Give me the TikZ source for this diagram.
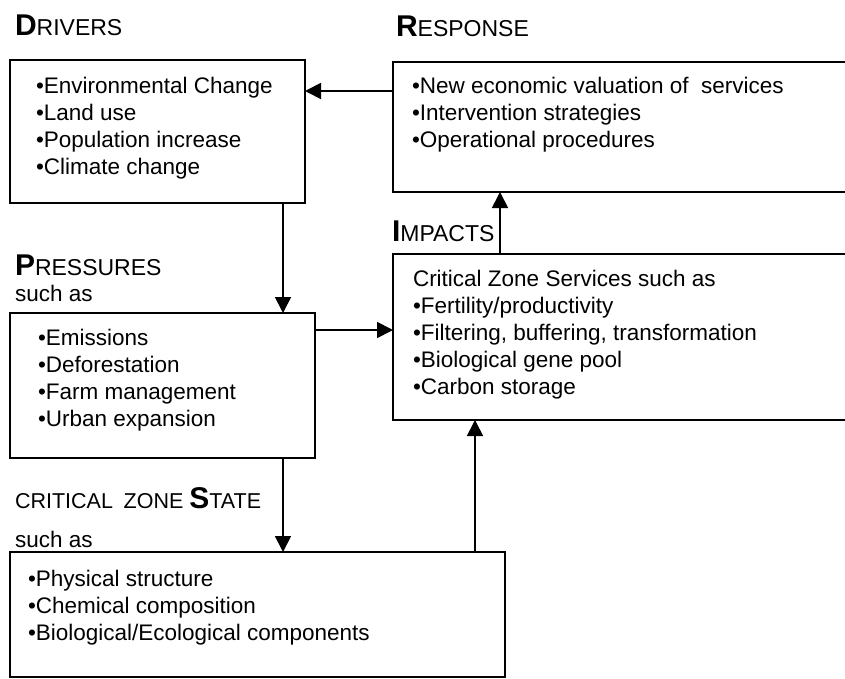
\documentclass[tikz,border=0pt]{standalone}
\usepackage{fontspec}
\setmainfont{Liberation Sans}
\usetikzlibrary{arrows.meta}
\newcommand\BigIni[1]{{\fontsize{30}{30}\selectfont\bfseries #1}}
\begin{document}
\begin{tikzpicture}[x=1pt,y=-1pt,
  box/.style={draw,line width=1.8pt,rectangle,inner sep=0pt,outer sep=0pt,anchor=north west},
  body/.style={inner sep=0pt,outer sep=0pt,anchor=north west,align=left,font=\fontsize{22.5}{27}\selectfont},
  head/.style={inner sep=0pt,outer sep=0pt,anchor=base west,font=\fontsize{23}{27}\selectfont},
  sub/.style={inner sep=0pt,outer sep=0pt,anchor=base west,font=\fontsize{22.5}{26}\selectfont},
  arr/.style={line width=1.8pt,-{Triangle[length=16pt,width=16pt]}}]
\clip (0,0) rectangle (845,679);
\fill[white] (0,0) rectangle (845,679);

% boxes
\node[box,minimum width=295pt,minimum height=143pt] (drivers) at (10,60) {};
\node[box,minimum width=480pt,minimum height=130pt] (resp) at (393,62) {};
\node[box,minimum width=305pt,minimum height=145pt] (press) at (10,313) {};
\node[box,minimum width=480pt,minimum height=166pt] (imp) at (393,254) {};
\node[box,minimum width=495pt,minimum height=125pt] (state) at (10,552) {};

% headings
\node[head] (hdrivers) at (15,36) {\BigIni{D}RIVERS};
\node[head] (hresp) at (396,37) {\BigIni{R}ESPONSE};
\node[head] (hpress) at (15,275) {\BigIni{P}RESSURES};
\node[sub] (spress) at (15,301) {such as};
\node[head] (himp) at (392,241) {\BigIni{I}MPACTS};
\node[head,font=\fontsize{21.5}{26}\selectfont] (hstate) at (15,508) {CRITICAL\hspace{0.5em}ZONE \BigIni{S}TATE};
\node[sub] (sstate) at (15,547) {such as};

% box texts (first baseline = top + 17)
\node[body] (tdrivers) at (36,77) {\rule{0pt}{17pt}•Environmental Change\\•Land use\\•Population increase\\•Climate change};
\node[body] (tresp) at (412,77) {\rule{0pt}{17pt}•New economic valuation of\ \ services\\•Intervention strategies\\•Operational procedures};
\node[body] (tpress) at (38,328) {\rule{0pt}{17pt}•Emissions\\•Deforestation\\•Farm management\\•Urban expansion};
\node[body] (timp) at (413,269) {\rule{0pt}{17pt}Critical Zone Services such as\\•Fertility/productivity\\•Filtering, buffering, transformation\\•Biological gene pool\\•Carbon storage};
\node[body] (tstate) at (28,569) {\rule{0pt}{17pt}•Physical structure\\•Chemical composition\\•Biological/Ecological components};

% connectors
\path (resp.north west) ++(0,29) coordinate (ra);
\draw[arr] (ra) -- (ra -| drivers.east);
\path (drivers.south west) ++(273,0) coordinate (da);
\draw[arr] (da) -- (da |- press.north);
\path (press.north east) ++(0,17) coordinate (pa);
\draw[arr] (pa) -- (pa -| imp.west);
\path (press.south west) ++(273,0) coordinate (pb);
\draw[arr] (pb) -- (pb |- state.north);
\path (state.north west) ++(465,0) coordinate (sa);
\draw[arr] (sa) -- (sa |- imp.south);
\path (imp.north west) ++(107,0) coordinate (ia);
\draw[arr] (ia) -- (ia |- resp.south);
\end{tikzpicture}
\end{document}
